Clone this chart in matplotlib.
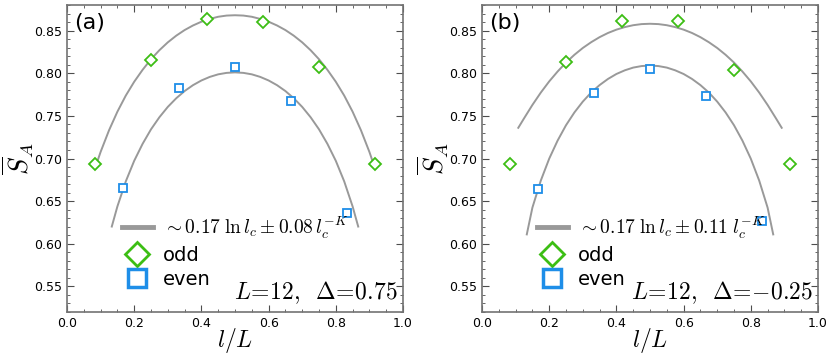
import numpy as np
import matplotlib
matplotlib.use('Agg')
import matplotlib.pyplot as plt
from matplotlib.lines import Line2D
from matplotlib.ticker import MultipleLocator

plt.rcParams['mathtext.fontset'] = 'cm'
plt.rcParams['font.family'] = 'DejaVu Sans'

# data points (l/L)
x_odd = [1/12, 3/12, 5/12, 7/12, 9/12, 11/12]
x_even = [2/12, 4/12, 6/12, 8/12, 10/12]

odd_a = [0.693, 0.8156, 0.864, 0.8606, 0.8077, 0.693]
even_a = [0.665, 0.7827, 0.807, 0.767, 0.636]
odd_b = [0.693, 0.8128, 0.861, 0.8618, 0.804, 0.693]
even_b = [0.664, 0.777, 0.805, 0.7736, 0.6267]

# fitted curves
xc_a_up = [0.0833, 0.10, 0.125, 0.15, 0.175, 0.20, 0.225, 0.25, 0.275, 0.30, 0.325, 0.35, 0.375,
           0.40, 0.425, 0.45, 0.475, 0.50, 0.525, 0.55, 0.575, 0.60, 0.625, 0.65, 0.675, 0.70,
           0.725, 0.75, 0.775, 0.80, 0.825, 0.85, 0.875, 0.90, 0.9167]
yc_a_up = [0.6885, 0.7077, 0.7330, 0.7549, 0.7738, 0.7900, 0.8040, 0.8164, 0.8270, 0.8362, 0.8440,
           0.8506, 0.8560, 0.8604, 0.8637, 0.8662, 0.8676, 0.8680, 0.8676, 0.8662, 0.8637, 0.8604,
           0.8560, 0.8506, 0.8440, 0.8362, 0.8270, 0.8164, 0.8040, 0.7900, 0.7738, 0.7549, 0.7330,
           0.7077, 0.6885]
xc_a_lo = [0.1333, 0.15, 0.175, 0.20, 0.225, 0.25, 0.275, 0.30, 0.325, 0.35, 0.375, 0.40, 0.425,
           0.45, 0.475, 0.50, 0.525, 0.55, 0.575, 0.60, 0.625, 0.65, 0.675, 0.70, 0.725, 0.75,
           0.775, 0.80, 0.825, 0.85, 0.8667]
yc_a_lo = [0.6202, 0.6438, 0.6732, 0.6973, 0.7172, 0.7342, 0.7484, 0.7605, 0.7706, 0.7791, 0.7860,
           0.7915, 0.7957, 0.7987, 0.8004, 0.8010, 0.8004, 0.7987, 0.7957, 0.7915, 0.7860, 0.7791,
           0.7706, 0.7605, 0.7484, 0.7342, 0.7172, 0.6973, 0.6732, 0.6438, 0.6202]
xc_b_up = [0.108, 0.125, 0.15, 0.175, 0.20, 0.225, 0.25, 0.275, 0.30, 0.325, 0.35, 0.375, 0.40,
           0.425, 0.45, 0.475, 0.50, 0.525, 0.55, 0.575, 0.60, 0.625, 0.65, 0.675, 0.70, 0.725,
           0.75, 0.775, 0.80, 0.825, 0.85, 0.875, 0.892]
yc_b_up = [0.736, 0.7470, 0.7628, 0.7773, 0.7904, 0.8020, 0.8125, 0.8216, 0.8296, 0.8364, 0.8423,
           0.8472, 0.8511, 0.8541, 0.8563, 0.8576, 0.858, 0.8576, 0.8563, 0.8541, 0.8511, 0.8472,
           0.8423, 0.8364, 0.8296, 0.8216, 0.8125, 0.8020, 0.7904, 0.7773, 0.7628, 0.7470, 0.736]
xc_b_lo = [0.1333, 0.15, 0.175, 0.20, 0.225, 0.25, 0.275, 0.30, 0.325, 0.35, 0.375, 0.40, 0.425,
           0.45, 0.475, 0.50, 0.525, 0.55, 0.575, 0.60, 0.625, 0.65, 0.675, 0.70, 0.725, 0.75,
           0.775, 0.80, 0.825, 0.85, 0.8667]
yc_b_lo = [0.611, 0.6424, 0.6741, 0.6998, 0.7210, 0.7390, 0.7540, 0.7667, 0.7774, 0.7861, 0.7933,
           0.7991, 0.8034, 0.8066, 0.8084, 0.809, 0.8084, 0.8066, 0.8034, 0.7991, 0.7933, 0.7861,
           0.7774, 0.7667, 0.7540, 0.7390, 0.7210, 0.6998, 0.6741, 0.6424, 0.611]

panels = [
    ('(a)', odd_a, even_a, xc_a_up, yc_a_up, xc_a_lo, yc_a_lo,
     r'$\sim 0.17\;\ln l_c \pm 0.08\,l_c^{-K}$', r'$L\!=\!12,\;\; \Delta\!=\!0.75$'),
    ('(b)', odd_b, even_b, xc_b_up, yc_b_up, xc_b_lo, yc_b_lo,
     r'$\sim 0.17\;\ln l_c \pm 0.11\;l_c^{-K}$', r'$L\!=\!12,\;\; \Delta\!=\!{-}0.25$'),
]

green = '#3cbe14'
blue = '#1e8ee8'
gray = '#999999'

fig = plt.figure(figsize=(8.3, 3.54), dpi=100)
lefts = [67/830, 482/830]

for left, (tag, odd, even, xu, yu, xl, yl, fitlab, info) in zip(lefts, panels):
    ax = fig.add_axes([left, 42/354, 336/830, 307/354])
    ax.plot(xu, yu, color=gray, lw=1.4, zorder=1)
    ax.plot(xl, yl, color=gray, lw=1.4, zorder=1)
    ax.plot(x_odd, odd, 'D', ms=6, mfc='white', mec=green, mew=1.3, zorder=3)
    ax.plot(x_even, even, 's', ms=6, mfc='white', mec=blue, mew=1.3, zorder=3)

    ax.set_xlim(0, 1)
    ax.set_ylim(0.52, 0.88)
    ax.xaxis.set_major_locator(MultipleLocator(0.2))
    ax.xaxis.set_minor_locator(MultipleLocator(0.05))
    ax.yaxis.set_major_locator(MultipleLocator(0.05))
    ax.yaxis.set_minor_locator(MultipleLocator(0.01))
    ax.tick_params(which='both', direction='in', top=True, right=True,
                   color='0.3', labelsize=9)
    ax.tick_params(which='major', length=5, width=0.8)
    ax.tick_params(which='minor', length=2.5, width=0.6)
    for sp in ax.spines.values():
        sp.set_color('0.45')
        sp.set_linewidth(1.2)

    ax.set_xlabel(r'$l/L$', fontsize=17, labelpad=-3)
    ax.set_ylabel(r'$\overline{S}_A$', fontsize=19, labelpad=-1)

    ax.text(0.02, 0.975, tag, transform=ax.transAxes, fontsize=16, va='top', ha='left')
    ax.text(0.985, 0.02, info, transform=ax.transAxes, fontsize=17, va='bottom', ha='right')

    handles = [
        Line2D([], [], color=gray, lw=3.5),
        Line2D([], [], ls='none', marker='D', ms=12, mfc='white', mec=green, mew=2),
        Line2D([], [], ls='none', marker='s', ms=13, mfc='white', mec=blue, mew=2.5),
    ]
    leg = ax.legend(handles, [fitlab, 'odd', 'even'], loc='lower left',
                    bbox_to_anchor=(0.14, 0.05), frameon=False, fontsize=14,
                    handlelength=1.6, handletextpad=0.5, labelspacing=0.25,
                    borderaxespad=0)

fig.savefig('out.png', dpi=100)
